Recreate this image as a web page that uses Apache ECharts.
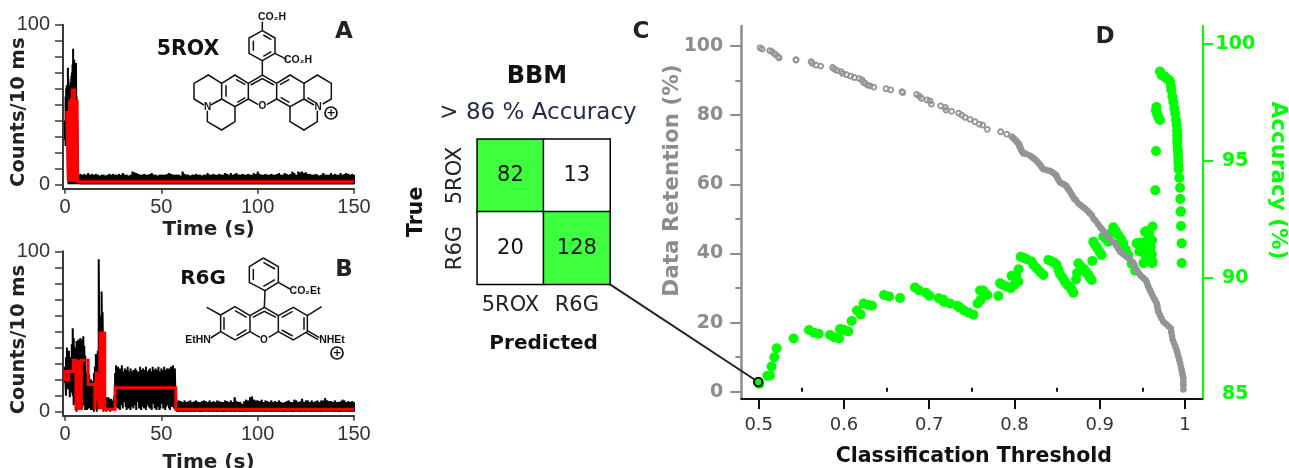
<!DOCTYPE html>
<html><head><meta charset="utf-8">
<style>html,body{margin:0;padding:0;background:#fff}#c{width:1289px;height:468px}</style>
<script src="https://cdn.jsdelivr.net/npm/echarts@6/dist/echarts.min.js"></script>
</head><body><div id="c"></div>
<script>
// ---------- panel A: 5ROX trace ----------
const roxEarlyTime  = [0,0.3,0.6,0.9,1.2,1.5,1.8,2.1,2.4,2.7,3,3.3,3.6,3.9,4.2,4.5,4.8,5.1,5.4,5.7,6,6.3,6.6];
const roxEarlyPeak  = [40,55,60,62,58,73,66,50,60,62,64,68,70,75,85,72,78,66,70,76,55,40,14];
const roxEarlyLow   = [28,24,30,26,32,2,0,0,0,0,0,0,0,0,0,0,0,0,0,0,0,0,0];
const roxTailStart  = 7;
const roxTailPeak   = [5.5,6.5,6,6.5,6,7,6,6.5,6,6.5, 6,5.5,6,6,5.5,6,6.5,6,6.5,6, 6,6.5,6,7,6,6,5.5,6,8,7.5,
  7,6.5,6,6,6.5,6,6,6.5,7,6, 6,5.5,6,6,6,6,6.5,7,6.5,6, 6,6,6,5.5,8,6.5,6,6,5.5,6,
  6,6.5,6,6,5.5,6,6,7,6,6, 6.5,6,6,6.5,6,6,7,6.5,6,7, 6,6.5,7,6,6,6.5,6,6,6.5,6,
  6,7,6.5,8,6.5,6,6,6.5,6,6, 6.5,6,6,6.5,7,6,6,7,6.5,6, 6.5,8,7,6,8,7.5,8,7,7.5,6.5,
  6.5,6,6,6.5,6,5.5,6,7,6,6, 6,7,6,6.5,6,6,7,6,6.5,7, 6.5,6,6.5,6];
const roxFitTime  = [0.9,1.8,1.8,2.4,2.4,2.9,2.9,3.4,3.4,3.9,3.9,4.4,4.4,4.9,4.9,5.3,5.3,5.8,5.8,6.3,6.3,6.6,6.6,150];
const roxFitValue = [46,46,1.6,1.6,53,1.6,53,1.6,54,1.6,60,2,60,9,60,1.6,53,1.6,53,1.6,53,53,1.6,1.6];

// ---------- panel B: R6G trace ----------
const r6gEarlyTime = [0,0.5,1,1.5,2,2.5,3,3.5,4,4.5,5,5.5,6,6.5,7,7.5,8,8.5,9,9.5,10,10.5,11,11.5,12,12.5,13,13.5,14,14.5,15,15.5,16,16.5,17,17.5,18,18.5,19,19.5,20,20.5,21,21.5,22,22.5,23,23.5,24,24.5,25,25.5];
const r6gEarlyPeak = [28,34,40,35,38,31,34,42,52,46,36,40,44,38,45,42,46,40,45,47,41,35,24,20,19,23,18,20,17,19,24,28,36,30,38,95,60,40,75,62,35,12,8,9,7,9,8,7,8,6,7,10];
const r6gEarlyLow  = [18,10,14,20,14,9,12,16,10,4,14,5,0,2,8,3,1,8,2,14,4,1,3,1,6,2,6,1,7,1,0,6,3,0,2,12,3,14,6,2,0,1,2,0,1,2,1,0,1,2,1,3];
const r6gBandTime  = [26,26.5,27,27.5,28,28.5,29,29.5,30,30.5,31,31.5,32,32.5,33,33.5,34,34.5,35,35.5,36,36.5,37,37.5,38,38.5,39,39.5,40,40.5,41,41.5,42,42.5,43,43.5,44,44.5,45,45.5,46,46.5,47,47.5,48,48.5,49,49.5,50,50.5,51,51.5,52,52.5,53,53.5,54,54.5,55,55.5,56,56.5,57,57.5];
const r6gBandPeak  = [24,29,26,28,24,27,26,29,23,25,27,24,26,28,25,23,27,25,24,26,24,27,26,24,25,23,28,26,24,27,25,26,28,25,23,26,27,25,24,28,25,26,27,24,26,28,25,24,27,26,25,28,24,26,27,25,27,24,28,26,29,25,27,15];
const r6gBandLow   = [6,3,8,2,5,1,7,4,2,6,9,3,1,5,2,8,1,6,3,2,7,4,1,6,8,2,5,1,3,7,2,6,1,4,8,3,2,6,1,5,7,2,4,1,6,3,1,2,5,8,2,6,1,3,4,7,2,1,5,3,6,2,4,1];
const r6gTailStart = 58;
const r6gTailPeak  = [6,7,6.5,6,7,6,6.5,7,6,6.5, 7,6,6,6.5,7,6.5,6,7,6,6.5, 6,7,6.5,6,6,7,6.5,6,7,6, 9,6.5,6,6,5,6.5,7.5,7,9,9.5,
  7.5,7,7,6.5,7.5,6,7,6.5,6,7, 6,6.5,6,7,6,5.5,6,6.5,7,6, 6,7.5,7,6,6.5,8,6,7,7,6, 7,6,6.5,7,6,7,7,8.5,7,6.5, 6.5,6,7,6,6,6.5,7.5,7,6,6.5, 6,6.5,6];
const r6gFitTime  = [0,1.9,1.9,0,0,1.9,1.9,4.3,4.3,5.7,5.7,6,6,6.5,6.5,7,7,7.5,7.5,8,8,8.5,8.5,12,12,15.5,15.5,16.3,16.3,16.9,16.9,17.8,17.8,18.3,18.3,18.8,18.8,19.3,19.3,19.8,19.8,20.3,20.3,20.6,20.6,26,26,57.5,57.5,150];
const r6gFitValue = [25,25,20,20,25,25,25,25,32,32,1,1,32,1,32,1,32,1,32,1,32,1,32,32,17,17,1.5,1.5,25,25,15,15,1.5,50,1.5,50,1.5,50,1.5,50,1.5,50,1.5,50,1.5,1.5,15,15,1.5,1.5];

// ---------- panels A/B ticks ----------
const traceTimeTicks  = [0,50,100,150];
const traceCountTicks = [0,10,20,30,40,50,60,70,80,90,100];
const traceCountLabels= [0,100];

// ---------- panel C: confusion matrix ----------
const predictedClasses = ['5ROX','R6G'];
const trueClasses      = ['5ROX','R6G'];
const confusionRow5ROX = [82,13];
const confusionRowR6G  = [20,128];

// ---------- panel D ----------
const retentionThreshold = [.5016,.504,.513,.5156,.518,.52,.5227,.524,.5438,.5438,.5614,.563,.5672,.5727,.5868,.5887,.5915,.5966,.5985,.6032,.6079,.6122,.618,.6212,.6228,.6247,.6278,.6306,.6349,.6493,.6548,.6681,.6689,.6853,.6884,.6908,.6974,.7009,.7025,.7134,.7189,.7197,.7263,.7346,.7381,.742,.7479,.7537,.7588,.7627,.7682,.7838,.7909,.7967,.7985,.8001,.8018,.803,.8042,.8053,.8058,.8062,.8073,.8081,.809,.8104,.8135,.8182,.8205,.8222,.8241,.826,.828,.83,.8315,.8328,.8339,.838,.8417,.844,.8465,.8487,.85,.8515,.8534,.856,.8585,.8605,.862,.8636,.8651,.8668,.8683,.8698,.8722,.8749,.8775,.88,.8827,.8853,.888,.8906,.8925,.895,.898,.9003,.9023,.9042,.9062,.908,.91,.9121,.915,.918,.92,.922,.9238,.9265,.929,.9316,.934,.936,.9386,.94,.9413,.9426,.9445,.9465,.9484,.9512,.9539,.955,.956,.957,.9585,.96,.9617,.9635,.965,.9668,.9675,.968,.9687,.9705,.9725,.9746,.9775,.9805,.9832,.984,.9848,.9856,.9872,.9887,.9902,.9912,.9923,.9934,.9943,.9952,.9961,.9968,.9975,.9981,.9981,.9981,.9981];
const retentionPercent   = [99.5,99.1,98.65,98.4,97.9,97.5,96.9,96.6,96.1,95.95,95.5,95,94.5,94.2,93.8,93.35,93,92.6,92.1,91.7,91.3,90.9,90.55,90.2,89.6,89.2,88.7,88.5,88.1,87.65,87.3,86.8,86.5,86,85.5,84.9,84.4,84.1,83.2,82.7,82.25,81.5,81.1,80.6,80,79.35,78.8,78.1,77.4,77.15,75.9,75.2,74.5,73.8,73.4,73,72.6,72.2,71.9,71.65,71.2,70.8,70.4,69.9,69.4,68.95,68.8,68.3,67.9,67.6,67.2,66.8,66.2,65.6,65.1,64.7,64.4,64.1,63.9,63.5,63.1,62.7,62,61.3,60.6,60.2,59.9,59.6,59,58.5,57.9,57.2,56.6,55.9,55.4,54.5,54,53.5,53,52.4,51.7,51.1,50.15,49.5,48.5,47.7,47.1,46.5,45.8,45.2,44.7,44.1,43.5,42.9,42.1,41.3,40.5,40,39.5,39.05,38.5,38,37.4,36.8,36.1,35.4,34.7,34.1,33.45,32.9,32.3,31.7,31,30.4,29.6,28.8,27.95,27.1,26.4,25.55,24.8,24,23.15,22.2,21.2,20.25,19.6,19,18.3,17.2,16.1,14.95,14,13,12.05,11.1,10.1,9.15,8.2,7.2,6.25,5.4,4.6,3.85,2.8,1.8,.68];
const accuracyThreshold  = [.5008,.5102,.5133,.5152,.5184,.5211,.541,.559,.5649,.5704,.5837,.5883,.5942,.5954,.6,.6052,.6091,.6153,.6196,.6231,.6286,.6329,.647,.6529,.6658,.6833,.688,.6962,.7002,.7111,.7166,.7174,.7244,.733,.7361,.7408,.7463,.7517,.7568,.7596,.7604,.7635,.7682,.7811,.7831,.7909,.7956,.7967,.8046,.8049,.8073,.8143,.8202,.8261,.8339,.8397,.8495,.8534,.8593,.8652,.8691,.8722,.8749,.8816,.8866,.8906,.8913,.8925,.8972,.9023,.9042,.9101,.916,.9218,.9277,.9335,.9414,.9433,.9465,.9512,.9531,.957,.9609,.9621,.9617,.9582,.959,.966,.968,.9707,.966,.9652,.9961,.9961,.9953,.9949,.9953,.9945,.9942,.9934,.9926,.9922,.9918,.991,.991,.9903,.9887,.9863,.984,.9824,.9766,.9726,.9707,
  .9488,.9512,.953,.955,.9555,.957,.958,.96,.9609,.9615,.962,.958,.955,.9465,.8435,.8465,.8515,.8565,.862,.867,.8735,.8222,.83,.811,.8775,.884,.8885,.8945,.9,.9075,.913,.919,.925,.9305,.9375,.786,.8,.802,.9835,.9852,.9875,.9895,.9907,.991,.9915,.992,.9924,.975,.979,.9815,.967,.969,.9665];
const accuracyPercent    = [85.45,85.8,85.82,86.2,86.6,86.98,87.4,87.76,87.65,87.6,87.55,87.45,87.4,87.8,87.76,87.7,88.15,88.6,88.43,88.9,88.83,88.8,89.26,89.2,89.13,89.58,89.46,89.36,89.23,89.12,89.06,88.96,88.9,88.8,88.72,88.6,88.5,88.42,88.9,89.45,89.05,89.45,89.26,89.22,89.76,89.62,89.55,90.08,89.83,90.36,90.9,90.79,90.69,90.4,90.12,90.76,90.55,90.16,89.83,89.6,89.36,89.93,90.62,90.36,90.12,89.9,90.72,91.54,91.26,90.97,91.76,91.54,92.16,91.83,91.47,90.97,90.3,91.47,91.12,90.62,91.97,91.69,90.97,92.19,90.62,91.47,91.19,97.15,96.96,96.75,95.42,93.74,90.63,91.47,92.21,92.82,92.84,93.37,93.85,94.28,94.64,95,95.39,95.75,96.1,96.53,97.03,97.53,98.03,98.39,98.6,98.68,98.82,
  91.5,91.3,91,90.8,91.4,91,90.8,91.3,91,91.6,90.7,91.9,92,91.5,90.7,90.65,90.35,90,89.7,89.5,90.2,90.55,90.25,90.85,90.5,90.25,90,91.4,91.1,91.65,91.9,92,91.65,91.2,90.6,89.7,89.7,90.1,98.2,97.75,97.25,96.75,96.3,95.9,95.55,95.2,94.8,98.62,98.5,98.45,97.05,96.85,97.3];
const highlightPoint     = [0.4995,2.8];
const thresholdTicks       = [0.5,0.6,0.7,0.8,0.9,1];
const thresholdMinorTicks  = [0.55,0.65,0.75,0.85,0.95];
const retentionTicks       = [0,20,40,60,80,100];
const retentionMinorTicks  = [10,30,50,70,90];
const accuracyTicks        = [90,95,100];
const accuracyLabels       = [85,90,95,100];

// ---------- build helpers ----------
function zip(xs, ys){ return xs.map((x,i)=>[x,ys[i]]); }
function envelope(ts, peaks, lows){
  const out=[]; ts.forEach((t,i)=>{ out.push([t,lows?lows[i]:0]); out.push([t,peaks[i]]); }); return out;
}
const seqFrom=(s,n)=>Array.from({length:n},(_,i)=>s+i);
const roxTrace = envelope(roxEarlyTime,roxEarlyPeak,roxEarlyLow)
  .concat(envelope(seqFrom(roxTailStart,roxTailPeak.length),roxTailPeak));
const r6gTrace = envelope(r6gEarlyTime,r6gEarlyPeak,r6gEarlyLow)
  .concat(envelope(r6gBandTime,r6gBandPeak,r6gBandLow))
  .concat(envelope(seqFrom(r6gTailStart,r6gTailPeak.length),r6gTailPeak));
const confusionCells = [];
[confusionRow5ROX,confusionRowR6G].forEach((row,r)=>row.forEach((v,c)=>{
  confusionCells.push({value:[c,1-r,v],itemStyle:{color:r===c?'#3dff3d':'#ffffff'}});
}));

// ---------- styles ----------
const SANS='"DejaVu Sans",sans-serif', HEL='"Liberation Sans",Arial,sans-serif';
const GREEN='#00ff00', GRAY='#8c8c8e', DOT='#929497', DARK='#3a3a3a';

// where the open circles of the retention curve crowd into a solid band
const retentionData = zip(retentionThreshold,retentionPercent).map(p=>
  (p[0]>0.797 && !(p[0]>0.922 && p[0]<0.942)) ? {value:p,itemStyle:{color:DOT}} : p);

function traceX(grid,idx){ return {type:'value',gridIndex:grid,min:-1.04,max:150,
  axisLine:{onZero:false,lineStyle:{color:DARK,width:2}},
  axisTick:{customValues:traceTimeTicks,length:5,lineStyle:{color:DARK,width:1.5}},
  axisLabel:{customValues:traceTimeTicks,fontFamily:HEL,fontSize:20,color:'#333',margin:9},
  splitLine:{show:false},
  name:'Time (s)',nameLocation:'middle',nameGap:idx,nameTextStyle:{fontFamily:SANS,fontWeight:'bold',fontSize:20,color:'#222'}}; }
function traceY(grid,min,pad){ return {type:'value',gridIndex:grid,min:min,max:100,
  axisLine:{onZero:false,lineStyle:{color:DARK,width:2}},
  axisTick:{customValues:traceCountTicks,length:8,lineStyle:{color:DARK,width:1.5}},
  axisLabel:{customValues:traceCountLabels,fontFamily:HEL,fontSize:20,color:'#333',margin:13},
  splitLine:{show:false},
  name:'Counts/10 ms',nameLocation:'middle',nameGap:34,nameRotate:90,nameMoveOverlap:false,
  nameTextStyle:{fontFamily:SANS,fontWeight:'bold',fontSize:19.5,color:'#222',padding:pad}}; }

// ---------- molecule drawings (illustration, zoomed-crop coordinates / 3) ----------
function mol(paths, oy){
  return paths.map(p=>({type:'polyline',silent:true,z:2,
    shape:{points:p.map(q=>[q[0]/3,oy+q[1]/3])},
    style:{stroke:'#111',lineWidth:1.5,fill:null}}));
}
const roxBonds=[
 [[787,92],[825,114],[825,160],[787,182],[747,160],[747,114],[787,92]],
 [[760,122],[760,152]],[[790,105],[814,119]],[[790,169],[814,155]],
 [[787,92],[787,65]],[[825,160],[860,178]],[[787,182],[787,225]],
 [[745,250],[787,225],[830,250]],[[745,297],[775,314]],[[800,314],[830,297]],
 [[745,250],[705,225],[665,250],[665,297],[705,320],[745,297],[745,250]],
 [[678,256],[678,290]],[[708,238],[736,254]],[[712,307],[736,293]],
 [[752,255],[787,236],[822,255]],
 [[830,250],[870,225],[912,250],[912,297],[870,320],[830,297],[830,250]],
 [[840,254],[868,238]],[[842,292],[868,307]],[[922,293],[945,307]],
 [[665,250],[625,225],[582,250],[582,297],[612,315]],[[632,315],[665,297]],
 [[622,332],[622,365],[665,390],[705,365],[705,320]],
 [[912,250],[952,225],[994,250],[994,297],[968,312]],[[912,297],[942,315]],
 [[952,332],[952,365],[912,390],[870,365],[870,320]]];
const r6gBonds=[
 [[790,72],[835,98],[835,145],[795,170],[748,145],[748,98],[790,72]],
 [[760,105],[760,138]],[[790,85],[825,105]],[[790,157],[825,137]],
 [[795,170],[793,220]],[[835,145],[870,165]],
 [[750,245],[793,220],[835,245]],[[758,250],[793,232],[828,250]],
 [[750,293],[780,310]],[[806,310],[835,293]],
 [[750,245],[705,218],[662,243],[662,293],[705,318],[750,293],[750,245]],
 [[672,250],[672,287]],[[705,230],[740,250]],[[710,305],[740,287]],
 [[835,245],[880,220],[922,245],[922,293],[880,318],[835,293],[835,245]],
 [[845,250],[878,232]],[[845,288],[878,306]],[[912,250],[912,287]],
 [[662,243],[620,220]],[[922,245],[965,218]],[[662,293],[632,312]],
 [[922,290],[958,311]],[[918,296],[954,317]]];
function txt(s,x,y,font,color,rot){
  return {type:'text',x:x,y:y,rotation:rot||0,z:3,silent:true,
    style:{text:s,font:font,fill:color||'#111',align:'center',verticalAlign:'middle'}};
}
function plus(x,y){
  return [{type:'circle',silent:true,z:2,shape:{cx:x,cy:y,r:6},style:{stroke:'#111',lineWidth:1.7,fill:'#fff'}},
    txt('+',x,y,'bold 11px '+SANS,'#111')];
}
const CHEM='bold 10.5px '+HEL;
const baseGraphic=[].concat(
  mol(roxBonds,0), mol(r6gBonds,234),
  [txt('CO₂H',272,17,CHEM),txt('CO₂H',298,60,CHEM),txt('O',262.5,106.5,'bold 10px '+HEL),
   txt('N',207.5,107,'bold 10px '+HEL),txt('N',318,107,'bold 10px '+HEL)],
  plus(331,113),
  [txt('CO₂Et',305,291,CHEM),txt('O',264,340,'bold 10px '+HEL),
   txt('EtHN',198,340,CHEM),txt('NHEt',332,340,CHEM)],
  plus(337,353),
  [txt('5ROX',188,50,'bold 20.5px '+SANS,'#111'),txt('R6G',203,279,'bold 20px '+SANS,'#111'),
   txt('A',344,32,'bold 23px '+SANS,'#222'),txt('B',344,270,'bold 23px '+SANS,'#222'),
   txt('C',641,32,'bold 23px '+SANS,'#222'),txt('D',1105,37,'bold 23px '+SANS,'#222'),
   txt('BBM',537,77,'bold 24px '+SANS,'#111'),
   txt('> 86 % Accuracy',538,113,'23px '+SANS,'#1f2a44')]
);

const option={
  animation:false,
  backgroundColor:'#fff',
  grid:[
    {left:63,top:24.7,width:291,height:164,outerBoundsMode:'none'},
    {left:63,top:251.3,width:291,height:164.4,outerBoundsMode:'none'},
    {left:477.3,top:139.3,width:132.7,height:145,outerBoundsMode:'none'},
    {left:741.3,top:26,width:461,height:373,outerBoundsMode:'none'}
  ],
  xAxis:[
    traceX(0,31), traceX(1,37),
    {type:'category',gridIndex:2,data:predictedClasses,axisLine:{show:false},axisTick:{show:false},
     axisLabel:{interval:0,fontFamily:SANS,fontSize:21,color:'#222',margin:11},
     name:'Predicted',nameLocation:'middle',nameGap:49,
     nameTextStyle:{fontFamily:SANS,fontWeight:'bold',fontSize:20,color:'#111'}},
    {type:'value',gridIndex:3,min:0.4796,max:1.0203,
     axisLine:{onZero:false,lineStyle:{color:'#111',width:2}},
     axisTick:{customValues:thresholdTicks,length:10,lineStyle:{color:'#111',width:2}},
     axisLabel:{customValues:thresholdTicks,fontFamily:SANS,fontSize:18,color:'#333',margin:17,
       formatter:v=>String(v)},
     splitLine:{show:false},
     name:'Classification Threshold',nameLocation:'middle',nameGap:47,
     nameTextStyle:{fontFamily:SANS,fontWeight:'bold',fontSize:20.5,color:'#111',padding:[0,0,0,4]}},
    {type:'value',gridIndex:3,min:0.4796,max:1.0203,
     axisLine:{show:false},
     axisTick:{customValues:thresholdMinorTicks,length:4,lineStyle:{color:'#111',width:2}},
     axisLabel:{show:false},splitLine:{show:false}}
  ],
  yAxis:[
    traceY(0,-2.76,[0,11,0,0]), traceY(1,-2.5,[0,12,0,0]),
    {type:'category',gridIndex:2,data:trueClasses.slice().reverse(),axisLine:{show:false},axisTick:{show:false},
     axisLabel:{interval:0,fontFamily:SANS,fontSize:21,color:'#222',rotate:90,margin:11,align:'center',verticalAlign:'bottom'},
     name:'True',nameLocation:'middle',nameGap:50,nameRotate:90,
     nameTextStyle:{fontFamily:SANS,fontWeight:'bold',fontSize:20.5,color:'#111'}},
    {type:'value',gridIndex:3,position:'left',min:-2.11,max:105.8,
     axisLine:{onZero:false,lineStyle:{color:GRAY,width:2.5}},
     axisTick:{customValues:retentionTicks,length:11,lineStyle:{color:GRAY,width:2}},
     axisLabel:{customValues:retentionTicks,fontFamily:SANS,fontWeight:'bold',fontSize:19,color:GRAY,margin:18},
     splitLine:{show:false},
     name:'Data Retention (%)',nameLocation:'middle',nameGap:58,nameRotate:90,nameMoveOverlap:false,
     nameTextStyle:{fontFamily:SANS,fontWeight:'bold',fontSize:21.5,color:GRAY,padding:[0,0,0,64]}},
    {type:'value',gridIndex:3,position:'right',min:84.81,max:100.77,
     axisLine:{onZero:false,lineStyle:{color:GREEN,width:2}},
     axisTick:{customValues:accuracyTicks,length:11,lineStyle:{color:GREEN,width:2}},
     axisLabel:{customValues:accuracyLabels,fontFamily:SANS,fontWeight:'bold',fontSize:19,color:GREEN,margin:33,align:'center'},
     splitLine:{show:false},
     name:'Accuracy (%)',nameLocation:'middle',nameGap:64,nameRotate:-90,nameMoveOverlap:false,
     nameTextStyle:{fontFamily:SANS,fontWeight:'bold',fontSize:21.5,color:GREEN,padding:[0,64,0,0]}},
    {type:'value',gridIndex:3,position:'left',min:-2.11,max:105.8,
     axisLine:{show:false},
     axisTick:{customValues:retentionMinorTicks,length:6,lineStyle:{color:GRAY,width:2}},
     axisLabel:{show:false},splitLine:{show:false}}
  ],
  series:[
    {name:'5ROX counts',type:'line',xAxisIndex:0,yAxisIndex:0,data:roxTrace,showSymbol:false,symbol:'none',
     lineStyle:{color:'#000',width:2},z:2},
    {name:'5ROX fit',type:'line',xAxisIndex:0,yAxisIndex:0,data:zip(roxFitTime,roxFitValue),symbol:'none',
     lineStyle:{color:'#ff0000',width:3,join:'miter'},z:3},
    {name:'R6G counts',type:'line',xAxisIndex:1,yAxisIndex:1,data:r6gTrace,symbol:'none',
     lineStyle:{color:'#000',width:2},z:2},
    {name:'R6G fit',type:'line',xAxisIndex:1,yAxisIndex:1,data:zip(r6gFitTime,r6gFitValue),symbol:'none',
     lineStyle:{color:'#ff0000',width:3,join:'miter'},z:3},
    {name:'Confusion',type:'heatmap',xAxisIndex:2,yAxisIndex:2,data:confusionCells,
     itemStyle:{borderColor:'#000',borderWidth:1.5},
     label:{show:true,fontFamily:SANS,fontSize:21,color:'#111',formatter:p=>String(p.value[2])},
     emphasis:{disabled:true},silent:true},
    {name:'Accuracy',type:'scatter',xAxisIndex:3,yAxisIndex:4,data:zip(accuracyThreshold,accuracyPercent),
     symbol:'circle',symbolSize:10,itemStyle:{color:GREEN,opacity:1},z:3,silent:true},
    {name:'Data Retention',type:'scatter',xAxisIndex:3,yAxisIndex:3,data:retentionData,
     symbol:'circle',symbolSize:5,itemStyle:{color:'rgba(255,255,255,0)',borderColor:DOT,borderWidth:1.8,opacity:1},z:4,silent:true},
    {name:'Selected threshold',type:'scatter',xAxisIndex:3,yAxisIndex:3,data:[highlightPoint],
     symbol:'circle',symbolSize:8.5,itemStyle:{color:GREEN,borderColor:'#000',borderWidth:2,opacity:1},z:6,silent:true}
  ],
  graphic:baseGraphic
};
const chart=echarts.init(document.getElementById('c'),null,{renderer:'canvas'});
chart.setOption(option);
// leader line from the matrix corner to the highlighted point
const end=chart.convertToPixel({seriesIndex:7},highlightPoint);
chart.setOption({graphic:baseGraphic.concat([{type:'line',silent:true,z:1,
  shape:{x1:610,y1:284.3,x2:end[0],y2:end[1]},style:{stroke:'#222',lineWidth:2}}])});
</script></body></html>
